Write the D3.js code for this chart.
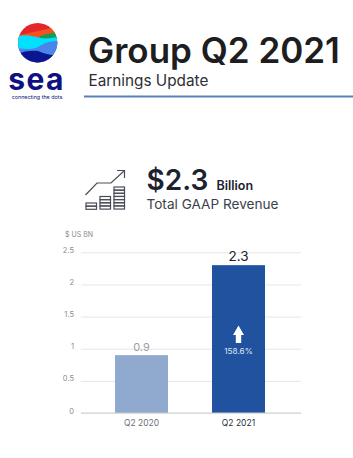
<!DOCTYPE html>
<meta charset="utf-8">
<style>
  html, body { margin: 0; padding: 0; background: #fff; }
  svg { display: block; }
  text { font-family: Inter, "Noto Sans", sans-serif; }
</style>
<script src="https://d3js.org/d3.v7.min.js"></script>
<svg id="chart" width="353" height="458"></svg>
<script>
// chart values
const quarters = ["Q2 2020", "Q2 2021"];
const revenue = [0.9, 2.3];
const barColors = ["#8fa9cf", "#20529f"];
const labelColors = ["#9a9ea6", "#1d2230"];
const quarterColors = ["#6b6f78", "#2b2f3a"];
const yTicks = [0, 0.5, 1, 1.5, 2, 2.5];
const growthLabel = "158.6%";

const svg = d3.select("#chart");

// ---- header ----
const logo = svg.append("g");
logo.append("clipPath").attr("id", "logoClip")
  .append("circle").attr("cx", 37.6).attr("cy", 42.8).attr("r", 19.7);
const waves = logo.append("g").attr("clip-path", "url(#logoClip)");
waves.append("rect").attr("x", 17).attr("y", 23).attr("width", 41).attr("height", 40).attr("fill", "#e4262b");
waves.append("path").attr("fill", "#f4511e").attr("d", "M17 36 C26 33 42 31 58 26 V45 H17Z");
waves.append("path").attr("fill", "#0f9d58").attr("d", "M40 36 C46 34 52 33 58 32 V40 H40Z");
waves.append("path").attr("fill", "#00e0ff").attr("d", "M17 36 C26 34 34 36 40 38 C46 39 52 38 58 37 V52 H17Z");
waves.append("path").attr("fill", "#4a86ea").attr("d", "M17 48 C24 49 32 50 38 47 C44 43 50 41 58 41 V64 H17Z");
waves.append("path").attr("fill", "#0a1590").attr("d", "M17 54 C24 51 32 50 38 51 C44 53 50 56 58 55 V64 H17Z");
logo.append("text").attr("x", 36.5).attr("y", 90).attr("text-anchor", "middle")
  .attr("font-size", 30).attr("font-weight", 700).attr("letter-spacing", 1.4).attr("fill", "#0d1280").text("sea");
logo.append("text").attr("x", 37).attr("y", 99).attr("text-anchor", "middle")
  .attr("font-size", 5.4).attr("fill", "#0d1280").text("connecting the dots");

svg.append("text").attr("x", 88).attr("y", 62.5)
  .attr("font-size", 35).attr("font-weight", 600).attr("fill", "#201d1f").text("Group Q2 2021");
svg.append("text").attr("x", 88.5).attr("y", 86)
  .attr("font-size", 15.3).attr("fill", "#2e2e33").text("Earnings Update");
svg.append("rect").attr("x", 84).attr("y", 95.5).attr("width", 269).attr("height", 2).attr("fill", "#5a80bb");

// ---- headline figure ----
const icon = svg.append("g").attr("fill", "none").attr("stroke", "#4a4e5a");
icon.append("path").attr("stroke-width", 1.2).attr("d", "M85.5 195 L97 183 H111 L124 171");
icon.append("path").attr("stroke-width", 1.2).attr("d", "M117 170.5 H124.5 V178");
// stacks of coins, one per step of the icon
[[86, 203, 2], [100, 196.5, 4], [114, 187, 7]].forEach(([x, top, rows]) => {
  d3.range(rows).forEach(i => {
    icon.append("rect").attr("x", x).attr("y", top + i * 3.15)
      .attr("width", 10.5).attr("height", 3.15).attr("stroke-width", 1.2);
  });
});

svg.append("text").attr("x", 146.5).attr("y", 190)
  .attr("font-size", 28).attr("font-weight", 600).attr("fill", "#1d2230").text("$2.3");
svg.append("text").attr("x", 216.5).attr("y", 190)
  .attr("font-size", 12.5).attr("font-weight", 600).attr("fill", "#1d2230").text("Billion");
svg.append("text").attr("x", 146.5).attr("y", 209)
  .attr("font-size", 13.6).attr("fill", "#3c404c").text("Total GAAP Revenue");

// ---- bars ----
const x = d3.scaleBand().domain(quarters).range([115, 265]).paddingInner(0.4536).paddingOuter(0);
const y = d3.scaleLinear().domain([0, 2.5]).range([413, 252.3]);

const yAxis = svg.append("g").attr("transform", "translate(81,0)")
  .call(d3.axisLeft(y).tickValues(yTicks).tickSize(-220).tickFormat(d3.format("~g")));
yAxis.select(".domain").remove();
yAxis.selectAll(".tick line").attr("stroke", "#e6e6e6");
yAxis.selectAll(".tick text").attr("x", -7).attr("dy", "0").attr("font-size", 7.5).attr("fill", "#8b8b8b");

svg.append("g").selectAll("rect").data(revenue).join("rect")
  .attr("x", (d, i) => x(quarters[i]))
  .attr("y", d => y(d))
  .attr("width", x.bandwidth())
  .attr("height", d => y(0) - y(d))
  .attr("fill", (d, i) => barColors[i]);

svg.append("line").attr("x1", 81).attr("x2", 301).attr("y1", y(0)).attr("y2", y(0))
  .attr("stroke", "#cfcfcf");

svg.append("g").selectAll("text").data(revenue).join("text")
  .attr("x", (d, i) => x(quarters[i]) + x.bandwidth() / 2)
  .attr("y", d => y(d) - 4.5)
  .attr("text-anchor", "middle")
  .attr("font-size", (d, i) => i ? 13.5 : 11)
  .attr("fill", (d, i) => labelColors[i])
  .text(d => d);

svg.append("g").selectAll("text").data(quarters).join("text")
  .attr("x", d => x(d) + x.bandwidth() / 2)
  .attr("y", 426)
  .attr("text-anchor", "middle")
  .attr("font-size", 8.5)
  .attr("fill", (d, i) => quarterColors[i])
  .text(d => d);

svg.append("text").attr("x", 65).attr("y", 237)
  .attr("font-size", 7).attr("fill", "#8b8b8b").text("$ US BN");

// growth arrow inside the 2021 bar
const cx = x(quarters[1]) + x.bandwidth() / 2;
svg.append("path").attr("fill", "#fff")
  .attr("d", `M${cx} 325.5 L${cx + 5.5} 335 H${cx + 2.7} V343 H${cx - 2.7} V335 H${cx - 5.5}Z`);
svg.append("text").attr("x", cx).attr("y", 353.5).attr("text-anchor", "middle")
  .attr("font-size", 8.2).attr("fill", "#dbe6f5").text(growthLabel);
</script>
